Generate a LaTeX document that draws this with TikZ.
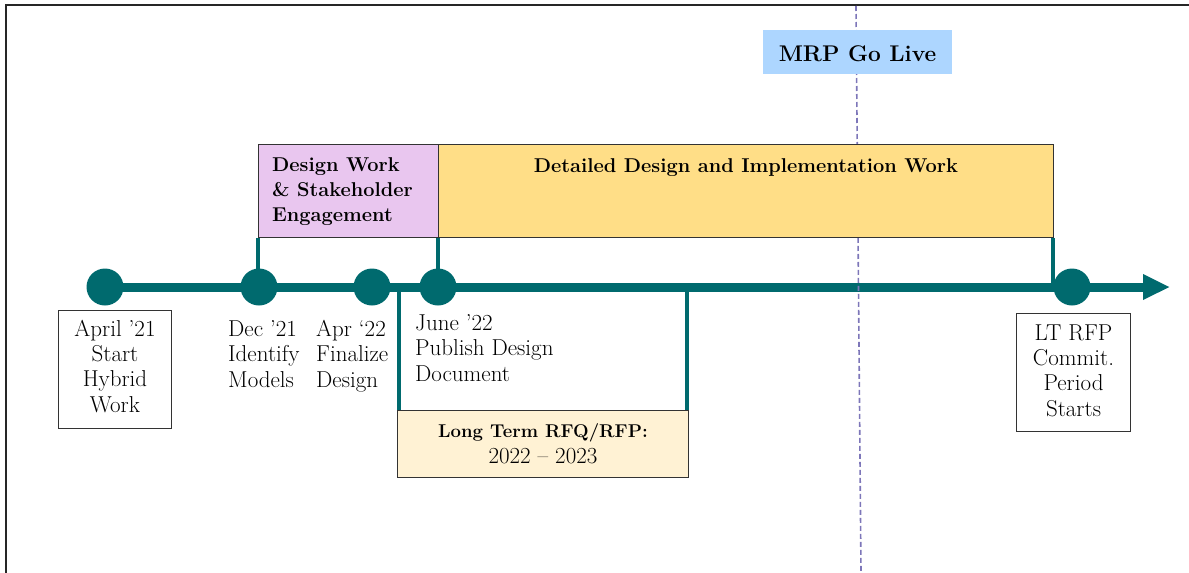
\documentclass[tikz,border=0pt]{standalone}
\usepackage{fontspec}
\usetikzlibrary{arrows.meta}
\definecolor{tealc}{RGB}{0,106,110}
\definecolor{pinkc}{RGB}{233,198,239}
\definecolor{yellowc}{RGB}{255,222,135}
\definecolor{creamc}{RGB}{255,242,212}
\definecolor{bluec}{RGB}{173,214,255}
\definecolor{dashc}{RGB}{125,118,185}
\tikzset{
  txt/.style={font=\fontsize{23}{25.3}\selectfont, inner sep=0pt},
  btxt/.style={font=\fontsize{20}{25}\selectfont\bfseries, inner sep=0pt},
  dot/.style={circle, fill=tealc, minimum size=37pt, inner sep=0pt},
  lbox/.style={draw=black!80, line width=1pt, fill=white, inner sep=0pt},
  conn/.style={draw=tealc, line width=3.2pt},
  spanbox/.style={draw=black!80, line width=1pt},
}
\begin{document}
\begin{tikzpicture}[x=1pt,y=-1pt]
\useasboundingbox (0,0) rectangle (1189,573);
% frame
\draw[line width=2pt, black!85] (6,573) -- (6,5) -- (1189,5);
% milestones
\node[dot] (d1) at (105,287) {};
\node[dot] (d2) at (259,287) {};
\node[dot] (d3) at (372,287) {};
\node[dot] (d4) at (438,287) {};
\node[dot] (d5) at (1072,287) {};
\coordinate (tip) at (1170,287);
% timeline
\draw[draw=tealc, line width=9pt, -{Triangle[length=27pt,width=24pt]}] (d1.center) -- (tip);
% go-live line
\coordinate (gt) at (856,6);
\coordinate (gb) at (861,573);
\draw[dashc, line width=1.6pt, dash pattern=on 5pt off 3pt] (gt) -- (gb);
% span boxes
\node[spanbox, fill=pinkc, minimum width=180pt, minimum height=93pt, anchor=north west] (dw) at (258,144) {};
\node[spanbox, fill=yellowc, minimum width=615pt, minimum height=93pt, anchor=north west] (dd) at (438,144) {};
\node[btxt, anchor=base west, align=left] (dwt) at (272,221) {Design Work\\\& Stakeholder\\Engagement};
\node[btxt, anchor=base] (ddt) at (dd.center |- 0,172) {Detailed Design and Implementation Work};
\node[fill=bluec, minimum width=189pt, minimum height=44pt, inner sep=0pt] (mrp) at (857.5,52) {};
\node[font=\fontsize{22.7}{27}\selectfont\bfseries, inner sep=0pt, anchor=base] (mrpt) at (mrp.center |- 0,61) {MRP Go Live};
% connectors
\draw[conn] (dw.south west) -- (dw.south west |- d2.center);
\draw[conn] (dd.south west) -- (dd.south west |- d4.center);
\draw[conn] ([xshift=-1pt]dd.south east) -- ([xshift=-1pt]dd.south east |- d5.center);
% LT RFQ box
\node[lbox, fill=creamc, minimum width=291pt, minimum height=67pt, anchor=north west] (lt) at (397,410) {};
\node[font=\fontsize{18.5}{24}\selectfont\bfseries, inner sep=0pt, anchor=base] (ltt) at (lt.center |- 0,437) {Long Term RFQ/RFP:};
\node[txt, anchor=base] (ltd) at (lt.center |- 0,463) {2022 -- 2023};
\draw[conn] ([xshift=2pt]lt.north west) -- ([xshift=2pt]lt.north west |- d1.center);
\draw[conn] ([xshift=-2pt]lt.north east) -- ([xshift=-2pt]lt.north east |- d1.center);
% labels
\node[lbox, minimum width=113pt, minimum height=118pt, anchor=north west] (l1) at (58,310) {};
\node[txt, anchor=base, align=center] (l1t) at (l1.center |- 0,412) {April ’21\\Start\\Hybrid\\Work};
\node[txt, anchor=base west, align=left] (l2) at (228,387) {Dec ’21\\Identify\\Models};
\node[txt, anchor=base west, align=left] (l3) at (316,387) {Apr ‘22\\Finalize\\Design};
\node[txt, anchor=base west, align=left] (l4) at (415,381) {June ’22\\Publish Design\\Document};
\node[lbox, minimum width=114pt, minimum height=118pt, anchor=north west] (l5) at (1016,313) {};
\node[txt, anchor=base, align=center] (l5t) at (l5.center |- 0,416) {LT RFP\\Commit.\\Period\\Starts};
\end{tikzpicture}
\end{document}
